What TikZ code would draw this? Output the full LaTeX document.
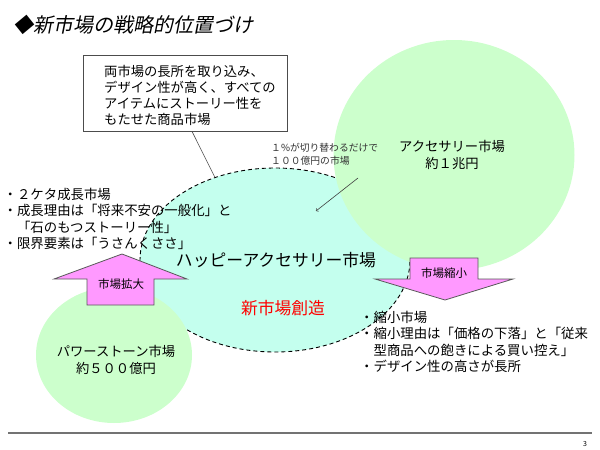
\documentclass[tikz,border=0pt]{standalone}
\usepackage{fontspec}
\setmainfont{Noto Sans CJK JP}
\newfontfamily\titlefont[FakeSlant=0.2]{Noto Sans CJK JP}
\usetikzlibrary{shapes.geometric}
\definecolor{marketgreen}{RGB}{204,255,204}
\definecolor{happycyan}{RGB}{196,255,238}
\definecolor{arrowpink}{RGB}{255,153,255}
\begin{document}
\begin{tikzpicture}[x=1pt,y=-1pt,
  market/.style={ellipse,fill=marketgreen,inner sep=0pt},
  marketlabel/.style={align=center,font=\fontsize{13.3}{16.5}\selectfont},
  bigarrow/.style={fill=arrowpink,draw=black!65,line width=0.8pt},
  arrowlabel/.style={font=\fontsize{11.5}{13}\selectfont},
  bullets/.style={align=left,anchor=west,inner sep=0pt,font=\fontsize{13.4}{16.3}\selectfont}]
\useasboundingbox (0,0) rectangle (600,450);

% Title
\node[anchor=west,inner sep=0pt] (title) at (13,25) {\titlefont\fontsize{20}{24}\selectfont ◆新市場の戦略的位置づけ};

% New market (dashed ellipse)
\node[ellipse,draw,dashed,dash pattern=on 4pt off 3pt,line width=0.9pt,fill=happycyan,
  minimum width=270pt,minimum height=184pt] (hpm) at (275,260) {};

% Existing markets
\node[market,minimum width=241pt,minimum height=230pt] (acc) at (454,155) {};
\node[market,minimum width=156pt,minimum height=136pt] (pws) at (114,355) {};
\node[marketlabel] (acclabel) at (452,155) {アクセサリー市場\\約１兆円};
\node[marketlabel] (pwslabel) at (116,360) {パワーストーン市場\\約５００億円};

% Market growth / decline arrows
\draw[bigarrow] (122,254) -- (187,279) -- (154,279) -- (154,305) -- (87,305) -- (87,279) -- (54,279) -- cycle;
\node[arrowlabel] (expand) at (121,284) {市場拡大};
\draw[bigarrow] (410,258) -- (478,258) -- (478,279) -- (513,279) -- (445,300) -- (375,279) -- (410,279) -- cycle;
\node[arrowlabel] (shrink) at (444,273) {市場縮小};

% Labels inside the new market
\node[font=\fontsize{16.8}{20}\selectfont] (hpmlabel) at (276,260) {ハッピーアクセサリー市場};
\node[font=\fontsize{16.8}{20}\selectfont,text=red] (create) at (283,308) {新市場創造};

% Callout box
\node[draw=black!70,line width=0.8pt,fill=white,minimum width=204pt,minimum height=76pt] (concept) at (185,93) {};
\node[anchor=west,align=left,inner sep=0pt,font=\fontsize{13.3}{16}\selectfont] (concepttext) at (104,95)
  {両市場の長所を取り込み、\\デザイン性が高く、すべての\\アイテムにストーリー性を\\もたせた商品市場};
\draw[black!70,line width=0.6pt] ([xshift=7pt]concept.south) -- (hpm.126);

% Note with arrow
\node[anchor=west,align=left,inner sep=0pt,font=\fontsize{9.8}{13}\selectfont,text=black!80] (note) at (271,154)
  {１\%が切り替わるだけで\\１００億円の市場};
\coordinate (notefrom) at (358,178);
\coordinate (noteto) at (316,211);
\draw[->,black!75,line width=0.6pt] (notefrom) -- (noteto);

% Bullet lists
\node[bullets] (growth) at (3.5,219) {・２ケタ成長市場\\・成長理由は「将来不安の一般化」と\\\phantom{・}「石のもつストーリー性」\\・限界要素は「うさんくささ」};
\node[bullets] (decline) at (360,342) {・縮小市場\\・縮小理由は「価格の下落」と「従来\\\phantom{・}型商品への飽きによる買い控え」\\・デザイン性の高さが長所};

% Footer
\draw[black!55,line width=1.2pt] (8,433) -- (592,433);
\node[font=\fontsize{7}{8}\selectfont] (pagenum) at (585,444) {3};
\end{tikzpicture}
\end{document}
